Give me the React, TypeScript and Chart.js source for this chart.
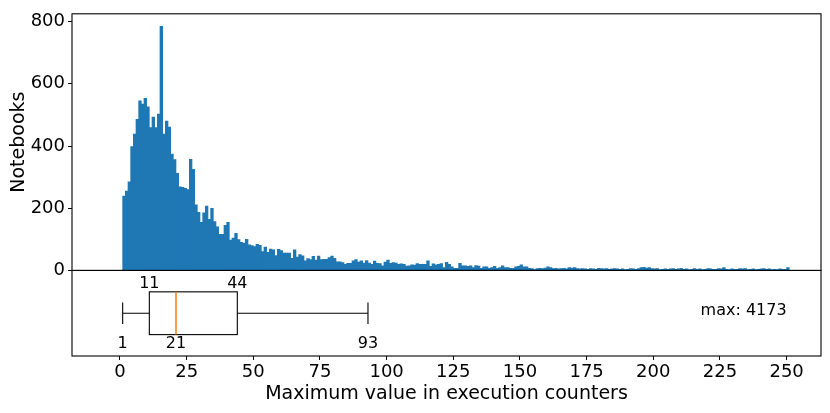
import React, { useEffect, useRef } from "react";
import { Chart, registerables } from "chart.js";

Chart.register(...registerables);

// Histogram bins: each bin covers [start, start + 1)
const binStarts: number[] = Array.from({ length: 250 }, (_, i) => i + 1);

const counts: number[] = [
  239, 255, 285, 398, 438, 486, 545, 535, 553, 526,
  459, 493, 459, 503, 785, 438, 480, 461, 374, 356,
  312, 269, 267, 264, 260, 357, 325, 211, 187, 155,
  185, 207, 164, 200, 157, 140, 116, 116, 145, 155,
  98, 104, 119, 99, 90, 88, 100, 82, 80, 77,
  84, 81, 61, 75, 58, 69, 66, 48, 68, 64,
  56, 56, 56, 39, 66, 43, 51, 47, 31, 38,
  35, 45, 33, 46, 35, 36, 36, 41, 46, 39,
  28, 28, 25, 20, 23, 23, 31, 35, 27, 31,
  24, 32, 24, 20, 30, 23, 22, 15, 27, 33,
  23, 25, 24, 20, 21, 20, 14, 15, 18, 17,
  22, 20, 20, 20, 31, 13, 21, 18, 20, 22,
  9, 26, 20, 12, 7, 7, 23, 15, 15, 13,
  15, 9, 16, 14, 7, 12, 12, 7, 9, 13,
  7, 9, 15, 9, 9, 7, 7, 12, 13, 18,
  12, 12, 7, 6, 3, 6, 7, 6, 8, 12,
  9, 6, 7, 5, 6, 7, 5, 9, 8, 9,
  6, 5, 6, 5, 4, 6, 5, 4, 7, 6,
  5, 6, 4, 5, 6, 5, 4, 5, 3, 4,
  6, 5, 4, 6, 9, 10, 8, 9, 6, 5,
  6, 3, 4, 5, 4, 5, 6, 4, 5, 7,
  4, 5, 3, 4, 6, 4, 5, 3, 4, 6,
  5, 4, 4, 6, 5, 9, 4, 3, 5, 4,
  4, 6, 5, 6, 3, 4, 5, 3, 4, 5,
  6, 4, 5, 3, 4, 3, 5, 4, 4, 9,
];

const xTicks: number[] = [0, 25, 50, 75, 100, 125, 150, 175, 200, 225, 250];
const yTicks: number[] = [0, 200, 400, 600, 800];

// Box plot summary: [lower whisker, Q1, median, Q3, upper whisker]
const boxStats: number[] = [1, 11, 21, 44, 93];
const maxValue = 4173;

const FONT = '"DejaVu Sans", "Liberation Sans", sans-serif';

const panelPlugin = {
  id: "panelPlugin",
  afterDatasetsDraw(chart: any) {
    const ctx: CanvasRenderingContext2D = chart.ctx;
    const x = chart.scales.x;
    const yb = chart.scales.yBox;
    const [lo, q1, med, q3, hi] = boxStats;
    const xp = (v: number) => x.getPixelForValue(v);
    const yc = yb.getPixelForValue(1);
    const boxTop = yb.getPixelForValue(1.25);
    const boxBot = yb.getPixelForValue(0.75);
    const capTop = yb.getPixelForValue(1.125);
    const capBot = yb.getPixelForValue(0.875);

    ctx.save();
    ctx.strokeStyle = "#000";
    ctx.lineWidth = 1.1;
    ctx.beginPath();
    // whiskers
    ctx.moveTo(xp(lo), yc);
    ctx.lineTo(xp(q1), yc);
    ctx.moveTo(xp(q3), yc);
    ctx.lineTo(xp(hi), yc);
    // caps
    ctx.moveTo(xp(lo), capTop);
    ctx.lineTo(xp(lo), capBot);
    ctx.moveTo(xp(hi), capTop);
    ctx.lineTo(xp(hi), capBot);
    ctx.stroke();
    // box
    ctx.strokeRect(xp(q1), boxTop, xp(q3) - xp(q1), boxBot - boxTop);
    // median
    ctx.strokeStyle = "#ff7f0e";
    ctx.lineWidth = 1.5;
    ctx.beginPath();
    ctx.moveTo(xp(med), boxTop);
    ctx.lineTo(xp(med), boxBot);
    ctx.stroke();

    // labels
    ctx.fillStyle = "#000";
    ctx.font = `16px ${FONT}`;
    ctx.textAlign = "center";
    ctx.textBaseline = "alphabetic";
    ctx.fillText(String(q1), xp(q1), boxTop - 4);
    ctx.fillText(String(q3), xp(q3), boxTop - 4);
    ctx.fillText(String(lo), xp(lo), boxBot + 13);
    ctx.fillText(String(med), xp(med), boxBot + 13);
    ctx.fillText(String(hi), xp(hi), boxBot + 13);
    ctx.textAlign = "right";
    ctx.fillText(`max: ${maxValue}`, xp(250), yc + 1.3);
    ctx.restore();
  },
  afterDraw(chart: any) {
    const ctx: CanvasRenderingContext2D = chart.ctx;
    const { left, right } = chart.chartArea;
    const yt = chart.scales.y;
    const yb = chart.scales.yBox;
    ctx.save();
    ctx.strokeStyle = "#000";
    ctx.lineWidth = 1.1;
    ctx.strokeRect(left, yt.top, right - left, yt.bottom - yt.top);
    ctx.strokeRect(left, yb.top, right - left, yb.bottom - yb.top);
    ctx.restore();
  },
};

export default function App() {
  const ref = useRef<HTMLCanvasElement>(null);
  useEffect(() => {
    document.body.style.margin = "0";
    const canvas = ref.current!;
    const tickFont = { family: FONT, size: 18 };
    const chart = new Chart(canvas, {
      type: "bar",
      data: {
        datasets: [
          {
            data: binStarts.map((b, i) => ({ x: b + 0.5, y: counts[i] })),
            backgroundColor: "#1f77b4",
            borderWidth: 0,
            barPercentage: 1,
            categoryPercentage: 1,
            xAxisID: "x",
            yAxisID: "y",
          } as any,
        ],
      },
      options: {
        responsive: false,
        animation: false,
        devicePixelRatio: 1,
        layout: { padding: { left: 0, top: 8, right: 9, bottom: 0 } },
        plugins: { legend: { display: false }, tooltip: { enabled: false } },
        scales: {
          x: {
            type: "linear",
            position: "bottom",
            min: -18,
            max: 262.9,
            offset: false,
            grid: {
              display: true,
              offset: false,
              drawOnChartArea: false,
              drawTicks: true,
              tickLength: 4,
              color: "#000",
              lineWidth: 1,
            },
            border: { display: false },
            ticks: {
              color: "#000",
              font: tickFont,
              padding: 2,
              maxRotation: 0,
              autoSkip: false,
            },
            afterBuildTicks: (s: any) => {
              s.ticks = xTicks.map((v) => ({ value: v }));
            },
            title: {
              display: true,
              text: "Maximum value in execution counters",
              color: "#000",
              font: { family: FONT, size: 19 },
              padding: { top: 0, bottom: 8 },
            },
            afterFit: (s: any) => {
              s.height = 57;
            },
          },
          yBox: {
            type: "linear",
            position: "left",
            stack: "panels",
            stackWeight: 1,
            min: 0.5,
            max: 1.5,
            grid: { display: false },
            border: { display: false },
            ticks: { display: false },
            afterFit: (s: any) => {
              s.width = 72;
            },
          },
          y: {
            type: "linear",
            position: "left",
            stack: "panels",
            stackWeight: 3,
            min: 0,
            max: 825,
            grid: {
              display: true,
              drawOnChartArea: false,
              drawTicks: true,
              tickLength: 4,
              color: "#000",
              lineWidth: 1,
            },
            border: { display: false },
            ticks: { color: "#000", font: tickFont, padding: 3 },
            afterBuildTicks: (s: any) => {
              s.ticks = yTicks.map((v) => ({ value: v }));
            },
            title: {
              display: true,
              text: "Notebooks",
              color: "#000",
              font: { family: FONT, size: 19 },
              padding: { top: 8, bottom: 0 },
            },
            afterFit: (s: any) => {
              s.width = 72;
            },
          },
        },
      } as any,
      plugins: [panelPlugin],
    });
    return () => chart.destroy();
  }, []);
  return (
    <div style={{ width: 830, height: 413 }}>
      <canvas ref={ref} width={830} height={413} style={{ display: "block" }} />
    </div>
  );
}
